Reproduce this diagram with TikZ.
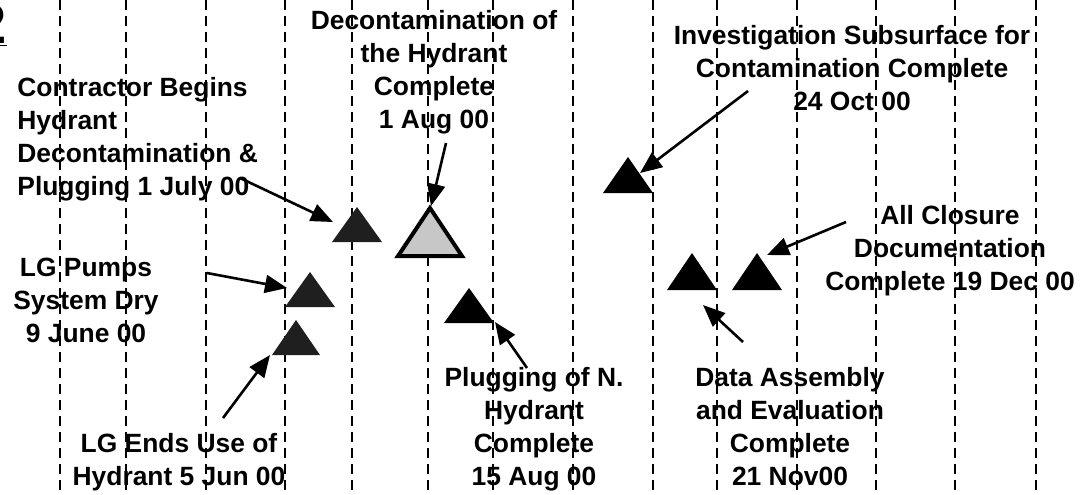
\documentclass[tikz,border=0pt]{standalone}
\usepackage{fontspec}
\setmainfont{Liberation Sans}
\usetikzlibrary{arrows.meta,calc}

\begin{document}
\begin{tikzpicture}[x=0.5pt,y=-0.5pt,
    lbl/.style={font=\fontsize{13.2}{16.4}\selectfont\bfseries,inner sep=0pt,align=center,anchor=base},
    ptr/.style={line width=1.3pt,-{Triangle[length=11pt,width=9pt]}},
    month/.style={line width=1.3pt,dash pattern=on 5pt off 3pt}]
\useasboundingbox (0,0) rectangle (1080,494);
% month grid
\foreach \x in {60,126,206,285,352,428,493,573,653,717,797,876,955,1036}
  \draw [month] (\x,0) -- (\x,494);
% cut-off figure number
\node [font=\fontsize{28}{28}\selectfont\bfseries,inner sep=0pt,anchor=base east] (fig-no) at (7,43) {\underline{2}};
% milestones: apex x / apex y / half width / height / fill / name
\foreach \ax/\ay/\hw/\ht/\fc/\nm in {357/207/25/35/black!88/contr,
    628/157/25/36/black/invest,310/272/25/35/black!88/pumps,
    296/320/24/35/black!88/ends,469/288/25/35/black/plug,
    692/253/25/37/black/data,757/253/25/37/black/close}{
  \fill [\fc] (\ax,\ay) -- ++(\hw,\ht) -- ++({-2*\hw},0) -- cycle;
  \coordinate (m-\nm) at (\ax,\ay);
}
\filldraw [fill=black!22,line width=2pt,line join=miter] (430,208) -- (462,256) -- (398,256) -- cycle;
\coordinate (m-decon) at (430,207);
% labels (anchored at the baseline of the last line)
\node [lbl,align=left,anchor=base west] (l-contr) at (17,195) {Contractor Begins\\Hydrant\\Decontamination \&\\Plugging 1 July 00};
\node [lbl] (l-decon) at (434,128) {Decontamination of\\the Hydrant\\Complete\\1 Aug 00};
\node [lbl] (l-invest) at (852,110) {Investigation Subsurface for\\Contamination Complete\\24 Oct 00};
\node [lbl] (l-close) at (950,290) {All Closure\\Documentation\\Complete 19 Dec 00};
\node [lbl] (l-pumps) at (86,342) {LG Pumps\\System Dry\\9 June 00};
\node [lbl] (l-ends) at (179,485) {LG Ends Use of\\Hydrant 5 Jun 00};
\node [lbl] (l-plug) at (534,485) {Plugging of N.\\Hydrant\\Complete\\15 Aug 00};
\node [lbl] (l-data) at (790,485) {Data Assembly\\and Evaluation\\Complete\\21 Nov00};
% pointers: name / from / to
\foreach \nm/\sx/\sy/\ex/\ey in {contr/240/178/333/222,decon/446/143/431/206,
    invest/748/91/640/173,close/846/222/767/255,pumps/207/273/287/288,
    ends/223/418/270/355,plug/527/368/495/322,data/743/342/703/305}{
  \coordinate (s-\nm) at (\sx,\sy);
  \coordinate (e-\nm) at (\ex,\ey);
  \draw [ptr] (s-\nm) -- (e-\nm);
}
\end{tikzpicture}
\end{document}
